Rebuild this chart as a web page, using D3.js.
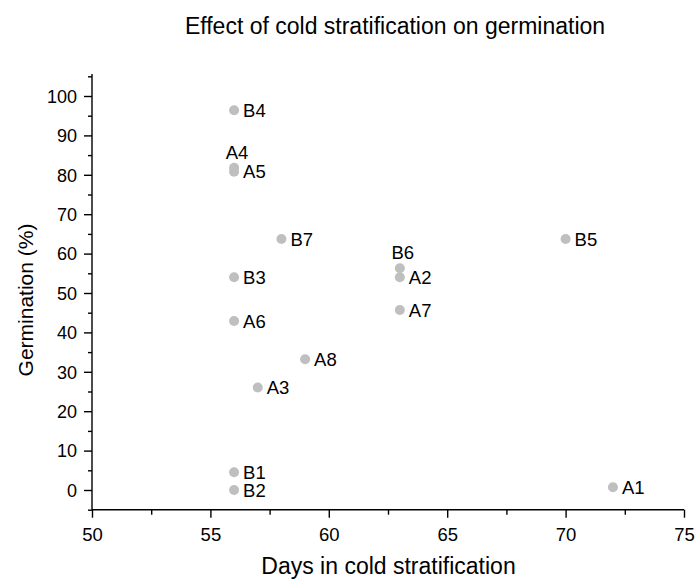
<!DOCTYPE html>
<html><head><meta charset="utf-8">
<script src="https://cdn.jsdelivr.net/npm/d3@7"></script>
<style>body{margin:0;background:#fff}svg{display:block}text{font-family:"Liberation Sans",Arial,sans-serif}</style>
</head><body><svg id="c" width="696" height="580"></svg>
<script>
const labels = ["B4","A4","A5","B7","B3","A6","A3","B1","B2","B5","B6","A2","A7","A8","A1"];
const days = [56,56,56,58,56,56,57,56,56,70,63,63,63,59,72];
const germination = [96.4,81.8,80.8,63.7,54,42.9,26,4.5,0,63.7,56.3,54,45.7,33.2,0.7];
const labelAbove = ["A4","B6"];
const xTicks = [50,55,60,65,70,75];
const yTicks = [0,10,20,30,40,50,60,70,80,90,100];

const svg = d3.select("#c");
const x = d3.scaleLinear().domain([50,75]).range([92,684]);
const y = d3.scaleLinear().domain([-5,105]).range([509.7,76.3]);

// axes
const xAxis = svg.append("g").attr("transform","translate(0,509.7)");
xAxis.call(d3.axisBottom(x).tickValues(d3.range(50,75.01,2.5)).tickSize(5).tickFormat(""));
xAxis.selectAll(".tick line").filter(d=>xTicks.includes(d)).attr("y2",8);
xAxis.call(g=>g.select(".domain").attr("d","M92,0H684"));
xAxis.selectAll(".tick").filter(d=>xTicks.includes(d)).append("text")
  .attr("y",31).attr("fill","#000").attr("text-anchor","middle").style("font-size","18.5px").text(d=>d);

const yAxis = svg.append("g").attr("transform","translate(92,0)");
yAxis.call(d3.axisLeft(y).tickValues(d3.range(-5,105.01,5)).tickSize(4).tickFormat(""));
yAxis.selectAll(".tick line").filter(d=>yTicks.includes(d)).attr("x2",-8);
yAxis.call(g=>g.select(".domain").attr("d","M0,509.7V74"));
yAxis.selectAll(".tick").filter(d=>yTicks.includes(d)).append("text")
  .attr("x",-15).attr("dy","0.35em").attr("fill","#000").attr("text-anchor","end").style("font-size","18px").text(d=>d);
svg.selectAll(".domain, .tick line").attr("stroke","#000").attr("stroke-width",1.4);

// points
const data = labels.map((l,i)=>({l, x:days[i], y:germination[i]}));
svg.append("g").selectAll("circle").data(data).join("circle")
  .attr("cx",d=>x(d.x)).attr("cy",d=>y(d.y)).attr("r",5).attr("fill","#bfbfbf");
svg.append("g").selectAll("text").data(data).join("text")
  .attr("x",d=>labelAbove.includes(d.l)?x(d.x)+3:x(d.x)+9)
  .attr("y",d=>labelAbove.includes(d.l)?y(d.y)-9:y(d.y))
  .attr("dy",d=>labelAbove.includes(d.l)?"0":"0.36em")
  .attr("text-anchor",d=>labelAbove.includes(d.l)?"middle":"start")
  .style("font-size","18.5px").attr("fill","#000").text(d=>d.l);

// titles
svg.append("text").attr("x",395).attr("y",34).attr("text-anchor","middle").style("font-size","23px").text("Effect of cold stratification on germination");
svg.append("text").attr("x",388.5).attr("y",574).attr("text-anchor","middle").style("font-size","23px").text("Days in cold stratification");
svg.append("text").attr("transform","translate(33,300) rotate(-90)").attr("text-anchor","middle").style("font-size","21px").text("Germination (%)");
</script></body></html>
